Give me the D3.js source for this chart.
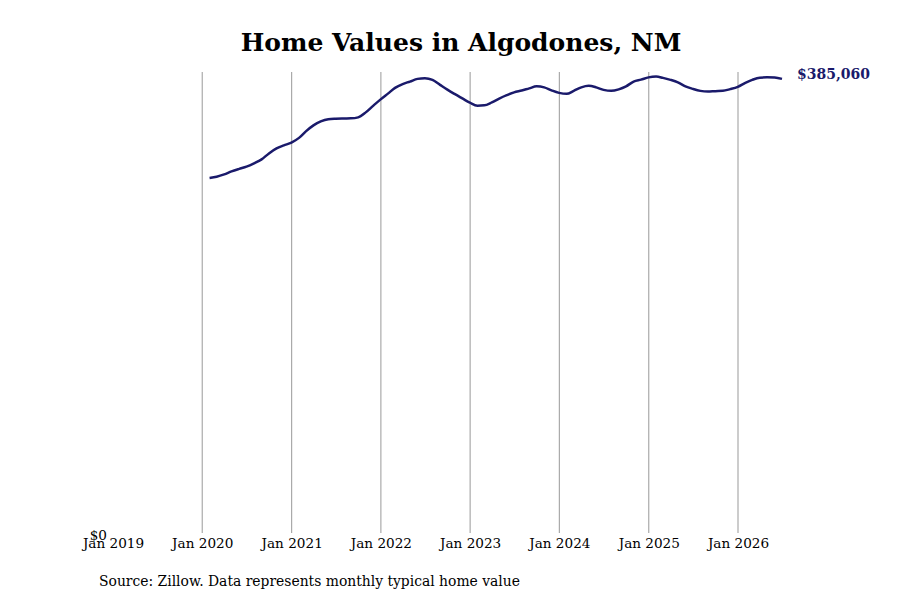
<!DOCTYPE html>
<html lang="en">
  <head>
    <meta charset="UTF-8" />
    <title>Home Values in Algodones, NM</title>
    <script src="https://d3js.org/d3.v7.min.js"></script>
    <style>
      body {
        margin: 0;
        padding: 0;
        background: #fff;
        font-family: "DejaVu Serif", serif;
      }

      .grid line {
        stroke: #999;
        stroke-width: 1;
      }

      .value-line {
        fill: none;
        stroke: #1a1a6b;
        stroke-width: 2.5;
      }
    </style>
  </head>
  <body>
    <div id="chart"></div>

    <script>
      // Monthly typical home values (month-end), Jan 2020 .. Jun 2026
      const startMonth = [2020, 0];
      const homeValues = [
        301100, 302130, 304080, 306620, 308740, 310610, 313410, 316800,
        321890, 326130, 328680, 331050, 335040, 340550, 345640, 349030,
        350900, 351330, 351500, 351580, 352430, 356670, 362180, 367700,
        372780, 377450, 380670, 382790, 385080, 385680, 384240, 379990,
        375920, 372100, 368540, 364890, 362350, 362610, 365150, 368370,
        371260, 373630, 375160, 377030, 378720, 377870, 375330, 373210,
        372360, 374900, 377870, 379150, 377870, 375750, 374900, 376180,
        378720, 382790, 384400, 386350, 387030, 385930, 384240, 382120,
        378720, 376600, 374900, 374310, 374650, 374900, 376350, 378300,
        381690, 384240, 386100, 386350, 386180, 385060,
      ];
      const tickYears = [2019, 2020, 2021, 2022, 2023, 2024, 2025, 2026];
      const titleText = "Home Values in Algodones, NM";
      const sourceText = "Source: Zillow. Data represents monthly typical home value";

      const width = 900;
      const height = 600;
      const margin = { top: 72, right: 118, bottom: 67, left: 113 };

      // month-end dates
      const data = homeValues.map((v, i) => ({
        date: new Date(startMonth[0], startMonth[1] + i + 1, 0),
        value: v,
      }));

      const svg = d3
        .select("#chart")
        .append("svg")
        .attr("width", width)
        .attr("height", height);

      const x = d3
        .scaleTime()
        .domain([new Date(tickYears[0], 0, 1), data[data.length - 1].date])
        .range([margin.left, width - margin.right]);

      const y = d3
        .scaleLinear()
        .domain([0, d3.max(homeValues) * 1.01])
        .range([height - margin.bottom, margin.top]);

      const ticks = tickYears.map((yr) => new Date(yr, 0, 1));

      // vertical gridlines (none at the first year, it sits on the y axis)
      svg
        .append("g")
        .attr("class", "grid")
        .selectAll("line")
        .data(ticks.slice(1))
        .enter()
        .append("line")
        .attr("x1", (d) => x(d))
        .attr("x2", (d) => x(d))
        .attr("y1", margin.top)
        .attr("y2", height - margin.bottom);

      // x axis labels
      const xAxis = d3
        .axisBottom(x)
        .tickValues(ticks)
        .tickSize(0)
        .tickPadding(5)
        .tickFormat(d3.timeFormat("Jan %Y"));

      const xg = svg
        .append("g")
        .attr("transform", `translate(0, ${height - margin.bottom})`)
        .call(xAxis);
      xg.select(".domain").remove();
      xg.selectAll("text")
        .style("font-family", "DejaVu Serif")
        .style("font-size", "13.6px")
        .style("fill", "#000");

      // y axis: only $0
      const yAxis = d3
        .axisLeft(y)
        .tickValues([0])
        .tickSize(0)
        .tickPadding(6)
        .tickFormat((d) => "$" + d3.format(",")(d));

      const yg = svg
        .append("g")
        .attr("transform", `translate(${margin.left}, 2)`)
        .call(yAxis);
      yg.select(".domain").remove();
      yg.selectAll("text")
        .style("font-family", "DejaVu Serif")
        .style("font-size", "13.6px")
        .style("fill", "#000");

      // line
      const line = d3
        .line()
        .x((d) => x(d.date))
        .y((d) => y(d.value))
        .curve(d3.curveMonotoneX);

      svg
        .append("path")
        .datum(data)
        .attr("class", "value-line")
        .attr("d", line);

      // last value label
      const last = data[data.length - 1];
      svg
        .append("text")
        .attr("x", x(last.date) + 15)
        .attr("y", y(last.value))
        .style("font-family", "DejaVu Serif")
        .style("font-weight", "bold")
        .style("font-size", "14px")
        .style("fill", "#1a1a6b")
        .text("$" + d3.format(",")(last.value));

      // title
      svg
        .append("text")
        .attr("x", 461)
        .attr("y", 51)
        .attr("text-anchor", "middle")
        .style("font-family", "DejaVu Serif")
        .style("font-weight", "bold")
        .style("font-size", "25px")
        .text(titleText);

      // source note
      svg
        .append("text")
        .attr("x", 99)
        .attr("y", 586)
        .style("font-family", "DejaVu Serif")
        .style("font-size", "13.9px")
        .text(sourceText);
    </script>
  </body>
</html>
